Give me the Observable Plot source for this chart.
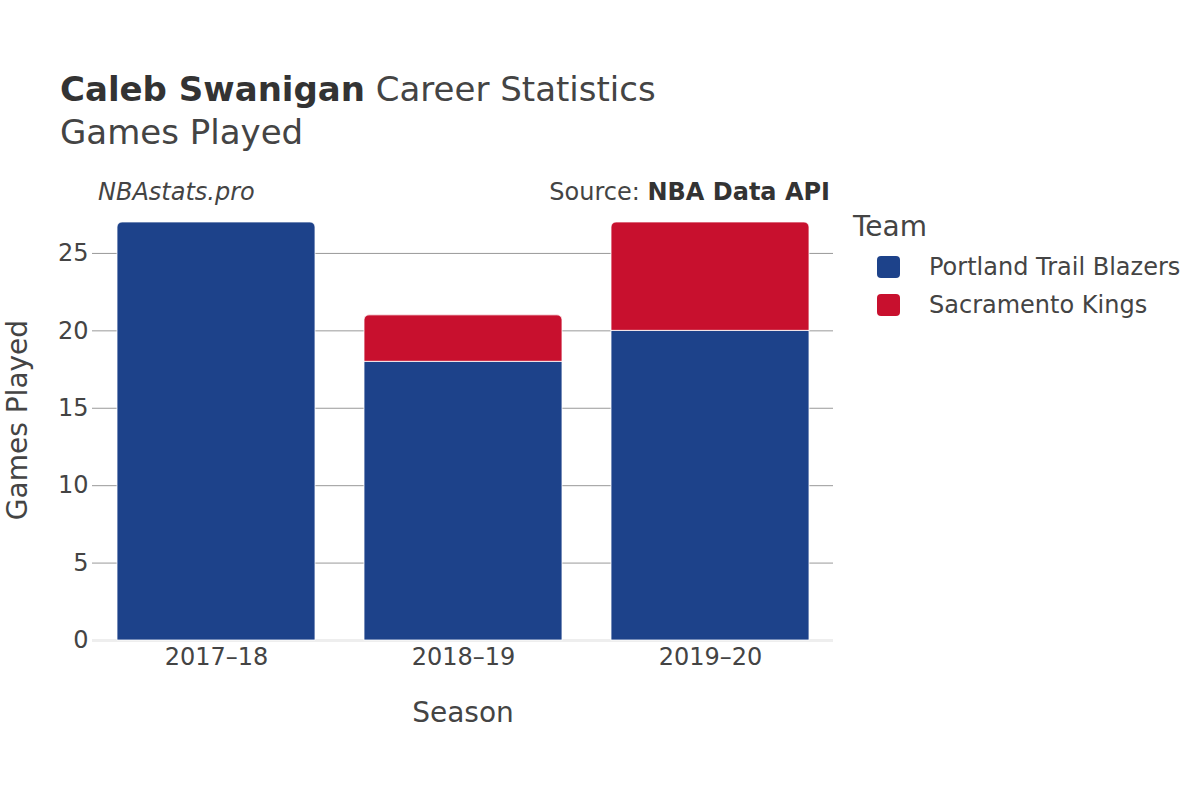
<!DOCTYPE html>
<html>
<head>
<meta charset="utf-8">
<script src="https://cdn.jsdelivr.net/npm/d3@7"></script>
<script src="https://cdn.jsdelivr.net/npm/@observablehq/plot@0.6"></script>
<style>
  html, body { margin: 0; padding: 0; background: #fff; }
  body { font-family: "DejaVu Sans", sans-serif; color: #444; }
  #wrap { position: relative; width: 1200px; height: 800px; }
  .abs { position: absolute; white-space: nowrap; }
  #title { left: 60px; top: 69px; font-size: 34px; color: #444; }
  #title b { color: #333; }
  #subtitle { left: 60px; top: 112px; font-size: 34px; color: #444; }
  #brand { left: 98px; top: 178px; font-size: 24px; font-style: italic; color: #444; }
  #source { right: 370px; top: 178px; font-size: 24px; color: #444; }
  #source b { color: #333; }
  #ytitle { left: 17px; top: 420px; font-size: 28px; transform: translate(-50%, -50%) rotate(-90deg); color: #444; }
  #xtitle { left: 463px; top: 712px; font-size: 28px; transform: translate(-50%, -50%); color: #444; }
  #legend { left: 853px; top: 210px; }
  #legend .lt { font-size: 28px; color: #444; margin-bottom: 5px; }
  #legend .item { display: flex; align-items: center; height: 38px; font-size: 24px; color: #444; }
  #legend .sw { width: 23px; height: 22px; border-radius: 4px; margin-left: 24px; margin-right: 29px; }
</style>
</head>
<body>
<div id="wrap">
  <div id="chart"></div>
</div>
<script>
const seasons = ["2017–18", "2018–19", "2019–20"];
const teams = ["Portland Trail Blazers", "Sacramento Kings"];
const teamColors = ["#1d428a", "#c8102e"];
const portlandGames = [27, 18, 20];
const sacramentoGames = [0, 3, 7];
const yTicks = [0, 5, 10, 15, 20, 25];

// build stacked segments from the data arrays
const series = [portlandGames, sacramentoGames];
const segments = [];
seasons.forEach((s, i) => {
  let base = 0;
  const parts = [];
  teams.forEach((t, j) => {
    const v = series[j][i];
    if (v > 0) parts.push({season: s, team: t, y1: base, y2: base + v, value: v});
    base += v;
  });
  parts.forEach((p, k) => { p.top = k === parts.length - 1; segments.push(p); });
});

const chart = Plot.plot({
  width: 1200,
  height: 800,
  marginLeft: 92,
  marginRight: 367,
  marginTop: 215,
  marginBottom: 160,
  style: { fontFamily: "DejaVu Sans, sans-serif", fontSize: "24px", color: "#444", background: "transparent" },
  x: { domain: seasons, paddingInner: 0.2, paddingOuter: 0.1, label: null },
  y: { domain: [0, 27.45], label: null, ticks: yTicks },
  color: { domain: teams, range: teamColors },
  marks: [
    Plot.ruleY(yTicks.filter(d => d > 0), { stroke: "#999", strokeWidth: 1 }),
    Plot.ruleY([0], { stroke: "#eeeeee", strokeWidth: 3 }),
    Plot.barY(segments.filter(d => !d.top), { x: "season", y1: "y1", y2: "y2", fill: "team", stroke: "#fff", strokeWidth: 0.8 }),
    Plot.barY(segments.filter(d => d.top), { x: "season", y1: "y1", y2: "y2", fill: "team", stroke: "#fff", strokeWidth: 0.8, ry1: 5 }),
    Plot.axisX({ tickSize: 0, tickPadding: 7, fontSize: 24, label: null }),
    Plot.axisY({ ticks: yTicks, tickSize: 0, tickPadding: 4, fontSize: 24, label: null })
  ]
});
document.getElementById("chart").appendChild(chart);

const wrap = document.getElementById("wrap");
function addDiv(id, html) {
  const d = document.createElement("div");
  d.className = "abs"; d.id = id; d.innerHTML = html; wrap.appendChild(d); return d;
}
addDiv("title", "<b>Caleb Swanigan</b> Career Statistics");
addDiv("subtitle", "Games Played");
addDiv("brand", "NBAstats.pro");
addDiv("source", "Source: <b>NBA Data API</b>");
addDiv("ytitle", "Games Played");
addDiv("xtitle", "Season");
const leg = addDiv("legend", "");
const lt = document.createElement("div"); lt.className = "lt"; lt.textContent = "Team"; leg.appendChild(lt);
teams.forEach((t, i) => {
  const it = document.createElement("div"); it.className = "item";
  const sw = document.createElement("span"); sw.className = "sw"; sw.style.background = teamColors[i];
  const tx = document.createElement("span"); tx.textContent = t;
  it.appendChild(sw); it.appendChild(tx); leg.appendChild(it);
});
</script>
</body>
</html>
